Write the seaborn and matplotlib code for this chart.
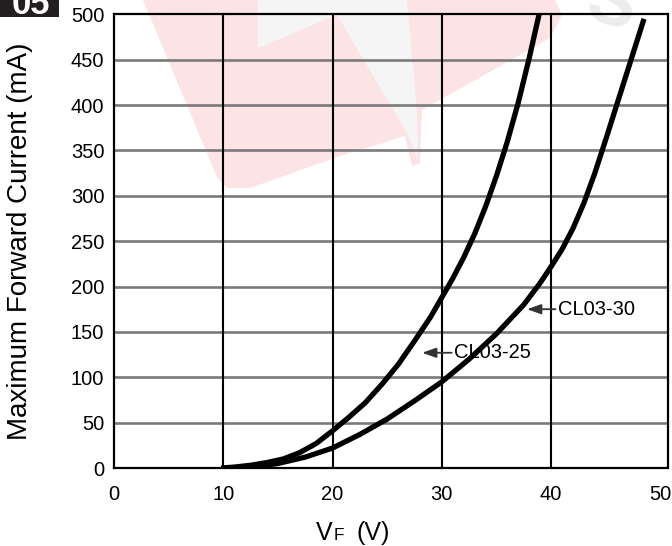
import numpy as np
import pandas as pd
import matplotlib
matplotlib.use("Agg")
import matplotlib.pyplot as plt
from matplotlib.patches import Polygon, Rectangle
import seaborn as sns

# ---------------- data ----------------
cl25_vf = [9.8, 11.0, 12.5, 14.0, 15.5, 17.0, 18.5, 20.0, 21.5, 23.0, 24.5, 26.0, 27.5, 29.0,
           30.0, 31.0, 32.0, 33.0, 34.0, 35.0, 36.0, 37.0, 38.0, 38.9]
cl25_ma = [0, 1, 3, 6, 10, 17, 27, 41, 56, 72, 92, 114, 140, 167,
           188, 209, 232, 258, 288, 322, 360, 403, 452, 500]

cl30_vf = [11.8, 13.0, 15.0, 17.5, 20.0, 22.5, 25.0, 27.5, 30.0, 32.5, 35.0, 37.5, 39.0,
           40.0, 41.0, 42.0, 43.0, 44.0, 45.0, 46.0, 47.0, 48.0, 48.5]
cl30_ma = [0, 1.5, 5, 12, 22, 37, 54, 74, 95, 120, 148, 180, 204,
           222, 241, 264, 292, 325, 362, 400, 438, 476, 495]

series_names = ["CL03-25", "CL03-30"]
x_ticks = [0, 10, 20, 30, 40, 50]
y_ticks = [0, 50, 100, 150, 200, 250, 300, 350, 400, 450, 500]
y_label = "Maximum Forward Current (mA)"

# label annotations: (text, arrow tip x, arrow tail x, text x, y)
label_text = ["CL03-25", "CL03-30"]
label_tip_x = [28.2, 37.8]
label_tail_x = [30.9, 40.4]
label_txt_x = [31.1, 40.6]
label_y = [127, 175]

df = pd.concat([
    pd.DataFrame({"VF": cl25_vf, "IF": cl25_ma, "device": series_names[0]}),
    pd.DataFrame({"VF": cl30_vf, "IF": cl30_ma, "device": series_names[1]}),
], ignore_index=True)

# ---------------- figure ----------------
sns.set_theme(style="white")
plt.rcParams["font.family"] = ["Liberation Sans", "DejaVu Sans"]

W, H = 672, 546
fig = plt.figure(figsize=(W / 100, H / 100), dpi=100)
fig.patch.set_facecolor("white")

def P(px, py):
    return (px / W, 1 - py / H)

# faint watermark (background logo)
pink = "#fce3e5"
outer = [(143, 0), (555, 0), (562, 15), (550, 38), (422, 110), (420, 163), (412, 166),
         (405, 136), (340, 156), (250, 188), (227, 188), (217, 177)]
fig.add_artist(Polygon([P(*p) for p in outer], closed=True, facecolor=pink,
                       edgecolor="none", transform=fig.transFigure, zorder=-2))
light = [(258, 0), (407, 0), (417, 110), (418, 160), (407, 133), (337, 15), (258, 48)]
fig.add_artist(Polygon([P(*p) for p in light], closed=True, facecolor="#f5f5f5",
                       edgecolor="none", transform=fig.transFigure, zorder=-1))
fig.text(*P(612, 6), "S", fontsize=52, fontweight="bold", color="#ececec",
         ha="center", va="center", rotation=-18, zorder=-1)

# corner badge
fig.add_artist(Rectangle(P(0, 17), 59 / W, 17 / H, transform=fig.transFigure,
                         facecolor="#231f20", edgecolor="none", zorder=5))
fig.text(*P(12, 14), "05", fontsize=25, fontweight="bold", color="white",
         ha="left", va="baseline", zorder=6)

left, right, top, bottom = 114, 667.5, 14.3, 468
ax = fig.add_axes([left / W, 1 - bottom / H, (right - left) / W, (bottom - top) / H])
ax.set_facecolor("none")

sns.lineplot(data=df, x="VF", y="IF", hue="device", units="device", estimator=None,
             sort=False, palette=["black", "black"], linewidth=3.8, legend=False, ax=ax,
             zorder=4)
for ln in ax.get_lines():
    ln.set_solid_capstyle("butt")
    ln.set_solid_joinstyle("round")

ax.set_xlim(x_ticks[0], 50.65)
ax.set_ylim(y_ticks[0], y_ticks[-1])
ax.set_xticks(x_ticks)
ax.set_yticks(y_ticks)
ax.set_xlabel("")
ax.set_ylabel("")

# grid
for xv in x_ticks[1:-1]:
    ax.axvline(xv, color="black", lw=1.5, zorder=2)
for yv in y_ticks[1:-1]:
    ax.axhline(yv, color="#7a7a7a", lw=1.9, zorder=1.5)

for s in ax.spines.values():
    s.set_color("black")
    s.set_linewidth(1.6)
    s.set_zorder(3)

ax.tick_params(axis="x", length=0, pad=12, labelsize=14.5, colors="black")
ax.tick_params(axis="y", length=0, pad=7, labelsize=14.5, colors="black")

# curve labels with arrows
for t, tip, tail, tx, yy in zip(label_text, label_tip_x, label_tail_x, label_txt_x, label_y):
    ax.annotate("", xy=(tip, yy), xytext=(tail, yy),
                arrowprops=dict(arrowstyle="-|>,head_length=0.7,head_width=0.25",
                                color="#333333", lw=1.3, shrinkA=0, shrinkB=0,
                                mutation_scale=12), zorder=5)
    ax.text(tx, yy, t, fontsize=14.5, color="black", ha="left", va="center", zorder=5)

# axis labels
fig.text(*P(20, 241), y_label, fontsize=20, rotation=90, ha="center", va="center",
         color="black")
fig.text(*P(316, 540), "V", fontsize=18, ha="left", va="baseline", color="black")
fig.text(*P(334, 540), "F", fontsize=12.5, ha="left", va="baseline", color="black")
fig.text(*P(356, 540), "(V)", fontsize=18, ha="left", va="baseline", color="black")

fig.savefig("out.png", dpi=100, facecolor="white")
